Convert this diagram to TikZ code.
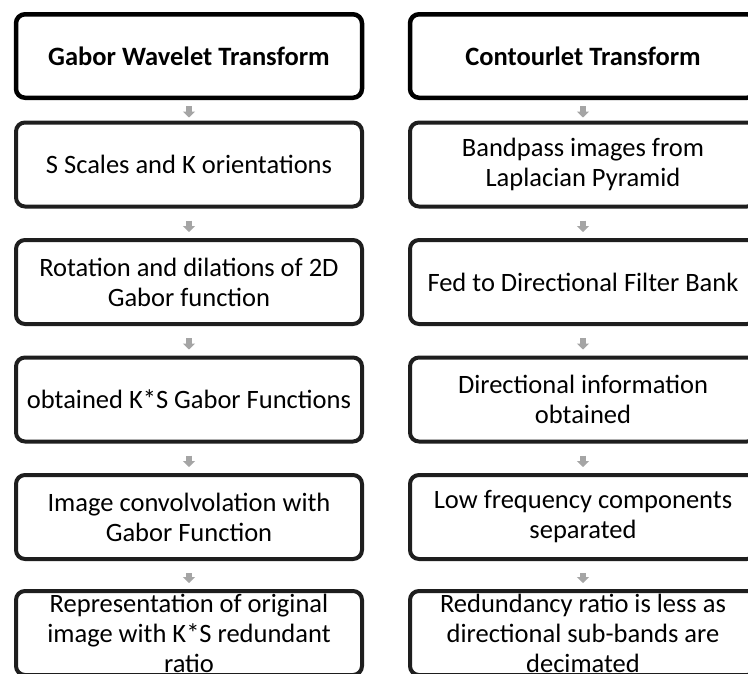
\documentclass[tikz,border=0pt]{standalone}
\usepackage{fontspec}
\setmainfont{Carlito}
\usetikzlibrary{arrows.meta}
\definecolor{arrowgray}{HTML}{A5A5A5}
\definecolor{boxline}{HTML}{1E1E1E}
\tikzset{
  stepbox/.style={draw=boxline, line width=4pt, rounded corners=9pt, fill=white,
    minimum width=346pt, minimum height=84pt, align=center, inner sep=0pt,
    font=\fontsize{26.5}{30}\selectfont},
  titlebox/.style={stepbox, draw=black, line width=4.5pt, minimum height=83.5pt,
    font=\fontsize{26.5}{30}\selectfont\bfseries},
  flowarrow/.style={draw=arrowgray, line width=6pt,
    -{Triangle[width=12pt,length=6pt,fill=arrowgray]}},
  gapbig/.style={shorten <=12pt, shorten >=6pt},
  gapsmall/.style={shorten <=6pt, shorten >=3pt}
}
\begin{document}
\begin{tikzpicture}[x=1pt,y=-1pt]
\useasboundingbox (0,0) rectangle (748,673);
\fill[white] (0,0) rectangle (748,673);
\begin{scope}
\clip (0,0) rectangle (748,673);
% left column
\node[titlebox] (L1) at (189,56) {Gabor Wavelet Transform};
\node[stepbox] (L2) at (189,164.5) {S Scales and K orientations};
\node[stepbox] (L3) at (189,282) {Rotation and dilations of 2D\\Gabor function};
\node[stepbox] (L4) at (189,399.5) {obtained K*S Gabor Functions};
\node[stepbox] (L5) at (189,517) {Image convolvolation with\\Gabor Function};
\node[stepbox] (L6) at (189,633) {Representation of original\\image with K*S redundant\\ratio};
% right column
\node[titlebox] (R1) at (583,56) {Contourlet Transform};
\node[stepbox] (R2) at (583,164.5) {Bandpass images from\\Laplacian Pyramid};
\node[stepbox] (R3) at (583,282) {Fed to Directional Filter Bank};
\node[stepbox] (R4) at (583,399.5) {Directional information\\obtained};
\node[stepbox] (R5) at (583,517) {Low frequency components\\separated};
\node[stepbox] (R6) at (583,633) {Redundancy ratio is less as\\directional sub-bands are\\decimated};
% arrows
\draw[flowarrow,gapsmall] (L1) -- (L2);
\draw[flowarrow,gapbig] (L2) -- (L3);
\draw[flowarrow,gapbig] (L3) -- (L4);
\draw[flowarrow,gapbig] (L4) -- (L5);
\draw[flowarrow,gapbig] (L5) -- (L6);
\draw[flowarrow,gapsmall] (R1) -- (R2);
\draw[flowarrow,gapbig] (R2) -- (R3);
\draw[flowarrow,gapbig] (R3) -- (R4);
\draw[flowarrow,gapbig] (R4) -- (R5);
\draw[flowarrow,gapbig] (R5) -- (R6);
\end{scope}
\end{tikzpicture}
\end{document}
